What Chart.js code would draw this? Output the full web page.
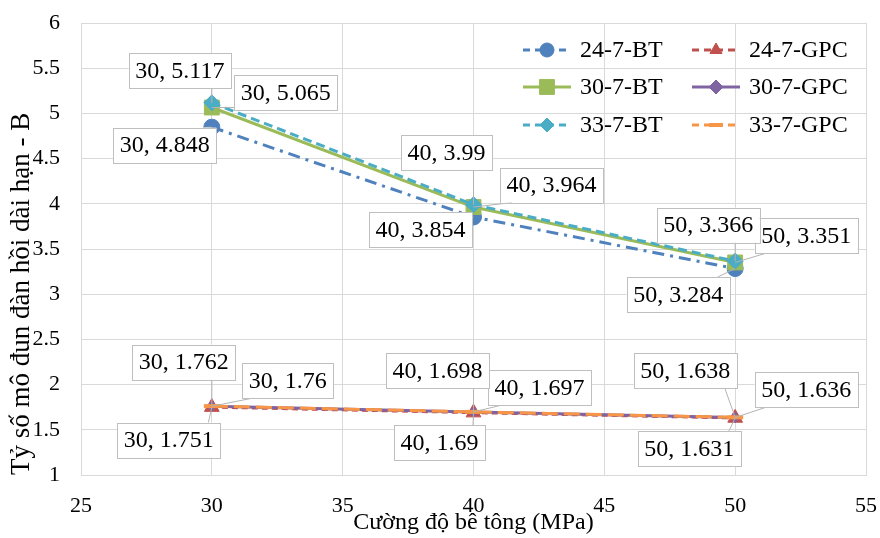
<!DOCTYPE html>
<html>
<head>
<meta charset="utf-8">
<script src="https://cdn.jsdelivr.net/npm/chart.js@4.4.0/dist/chart.umd.min.js"></script>
<style>
  html, body { margin: 0; padding: 0; background: #fff; }
  #wrap { width: 880px; height: 538px; }
</style>
</head>
<body>
<div id="wrap"><canvas id="chart" width="880" height="538"></canvas></div>
<script>
// cường độ bê tông (MPa)
var strength = [30, 40, 50];

// tỷ số mô đun đàn hồi dài hạn
var bt24 = [4.848, 3.854, 3.284];
var bt30 = [5.065, 3.964, 3.351];
var bt33 = [5.117, 3.99, 3.366];
var gpc24 = [1.751, 1.69, 1.631];
var gpc30 = [1.76, 1.697, 1.636];
var gpc33 = [1.762, 1.698, 1.638];

var seriesNames = ['24-7-BT', '24-7-GPC', '30-7-BT', '30-7-GPC', '33-7-BT', '33-7-GPC'];
var seriesValues = [bt24, gpc24, bt30, gpc30, bt33, gpc33];

var xMin = 25, xMax = 55, xStep = 5;
var yMin = 1, yMax = 6, yStep = 0.5;

var serif = '"Liberation Serif", "Times New Roman", serif';

// line / marker look per series
var looks = {
	'24-7-BT':  { color: '#4f81bd', dash: [12, 6, 3, 6], point: 'circle',   r: 8 },
	'24-7-GPC': { color: '#c0504d', dash: [6, 4],        point: 'triangle', r: 8.5 },
	'30-7-BT':  { color: '#9bbb59', dash: [],            point: 'rect',     r: 10.5 },
	'30-7-GPC': { color: '#8064a2', dash: [],            point: 'rectRot',  r: 5 },
	'33-7-BT':  { color: '#4bacc6', dash: [9, 5],        point: 'rectRot',  r: 8 },
	'33-7-GPC': { color: '#f79646', dash: [16, 6],       point: 'line',     r: 8 }
};

// where each value box sits, relative to its point (px)
var labelOffsets = {
	'24-7-BT':  [[-47, 18], [-53, 13], [-57, 26]],
	'24-7-GPC': [[-43, 33], [-34, 30], [-46, 31]],
	'30-7-BT':  [[74, -15], [78, -22], [71, -27]],
	'30-7-GPC': [[76, -26], [66, -24], [71, -28]],
	'33-7-BT':  [[-32, -32], [-27, -52], [-27, -36]],
	'33-7-GPC': [[-28, -44], [-36, -41], [-50, -47]]
};

var datasets = seriesNames.map(function (name, i) {
	var lk = looks[name];
	return {
		label: name,
		data: strength.map(function (x, j) { return { x: x, y: seriesValues[i][j] }; }),
		showLine: true,
		order: seriesNames.length - i,   // later series drawn on top
		borderColor: lk.color,
		backgroundColor: lk.color,
		borderWidth: 3,
		borderDash: lk.dash,
		pointStyle: lk.point,
		pointRadius: lk.r,
		pointHoverRadius: lk.r,
		pointBorderWidth: lk.point === 'line' ? 4 : 1,
		pointBackgroundColor: lk.color,
		pointBorderColor: lk.color,
		tension: 0
	};
});

function clamp(v, a, b) { return Math.max(a, Math.min(b, v)); }

// value boxes with leader lines
var valueBoxes = {
	id: 'valueBoxes',
	afterDatasetsDraw: function (chart) {
		var ctx = chart.ctx;
		var boxes = [];
		ctx.save();
		ctx.font = '24px ' + serif;
		chart.data.datasets.forEach(function (ds, i) {
			var meta = chart.getDatasetMeta(i);
			meta.data.forEach(function (pt, j) {
				var d = ds.data[j];
				var text = d.x + ', ' + d.y;
				var off = labelOffsets[ds.label][j];
				var w = ctx.measureText(text).width + 13, h = 35;
				var left = pt.x + off[0] - w / 2, top = pt.y + off[1] - h / 2;
				boxes.push({ text: text, left: left, top: top, w: w, h: h, px: pt.x, py: pt.y });
			});
		});
		ctx.strokeStyle = '#b3b3b3';
		ctx.lineWidth = 1;
		boxes.forEach(function (b) {
			// leader goes to the edge facing the point, a little in from the corner
			var nx = clamp(b.px, b.left + 12, b.left + b.w - 12);
			var ny = clamp(b.py, b.top, b.top + b.h);
			if (b.py > b.top && b.py < b.top + b.h) nx = clamp(b.px, b.left, b.left + b.w);
			ctx.beginPath();
			ctx.moveTo(nx, ny);
			ctx.lineTo(b.px, b.py);
			ctx.stroke();
		});
		boxes.forEach(function (b) {
			ctx.fillStyle = '#fff';
			ctx.fillRect(b.left, b.top, b.w, b.h);
			ctx.strokeStyle = '#bfbfbf';
			ctx.strokeRect(Math.round(b.left) + 0.5, Math.round(b.top) + 0.5, Math.round(b.w), Math.round(b.h));
			ctx.fillStyle = '#000';
			ctx.textAlign = 'center';
			ctx.textBaseline = 'middle';
			ctx.fillText(b.text, b.left + b.w / 2, b.top + b.h / 2 + 1);
		});
		ctx.restore();
	}
};

// two-column legend inside the plot
var gridLegend = {
	id: 'gridLegend',
	afterDraw: function (chart) {
		var ctx = chart.ctx;
		var colX = [523, 692];
		var rowY = [50, 87, 125];
		ctx.save();
		ctx.font = '24px ' + serif;
		ctx.textBaseline = 'middle';
		ctx.textAlign = 'left';
		chart.data.datasets.forEach(function (ds, i) {
			var x = colX[i % 2], y = rowY[Math.floor(i / 2)];
			ctx.strokeStyle = ds.borderColor;
			ctx.fillStyle = ds.borderColor;
			ctx.lineWidth = 3;
			ctx.setLineDash(ds.borderDash.length ? [7, 5] : []);
			ctx.beginPath();
			ctx.moveTo(x, y);
			ctx.lineTo(x + 48, y);
			ctx.stroke();
			ctx.setLineDash([]);
			var r = ds.pointStyle === 'rect' ? 10.5 : 7;
			ctx.lineWidth = ds.pointStyle === 'line' ? 4 : 1;
			if (Chart.helpers && Chart.helpers.drawPoint) {
				Chart.helpers.drawPoint(ctx, { pointStyle: ds.pointStyle, radius: r, borderWidth: ctx.lineWidth, rotation: 0 }, x + 24, y);
			}
			ctx.fillStyle = '#000';
			ctx.fillText(ds.label, x + 57, y + 1);
		});
		ctx.restore();
	}
};

var grid = { color: '#d9d9d9', lineWidth: 1, drawTicks: false };
var tickFont = { family: serif, size: 22 };

new Chart(document.getElementById('chart'), {
	type: 'scatter',
	data: { datasets: datasets },
	options: {
		responsive: false,
		animation: false,
		layout: { padding: 0 },
		plugins: { legend: { display: false }, tooltip: { enabled: false } },
		scales: {
			x: {
				type: 'linear', min: xMin, max: xMax,
				ticks: { stepSize: xStep, padding: 18, color: '#000', font: tickFont },
				grid: grid,
				border: { color: '#d9d9d9' },
				title: { display: true, text: 'Cường độ bê tông (MPa)', color: '#000', padding: { top: 0, bottom: 1 }, font: { family: serif, size: 24 } },
				afterFit: function (s) { s.height = 63; s.paddingLeft = 0; s.paddingRight = 14; }
			},
			y: {
				type: 'linear', min: yMin, max: yMax,
				ticks: { stepSize: yStep, padding: 21, color: '#000', font: tickFont,
					callback: function (v) { return String(v); } },
				grid: grid,
				border: { color: '#d9d9d9' },
				title: { display: true, text: 'Tỷ số mô đun đàn hồi dài hạn - B', align: 'start', color: '#000', padding: { top: 6, bottom: 0 }, font: { family: serif, size: 27 } },
				afterFit: function (s) { s.width = 81; s.paddingTop = 23; s.paddingBottom = 0; }
			}
		}
	},
	plugins: [valueBoxes, gridLegend]
});
</script>
</body>
</html>
